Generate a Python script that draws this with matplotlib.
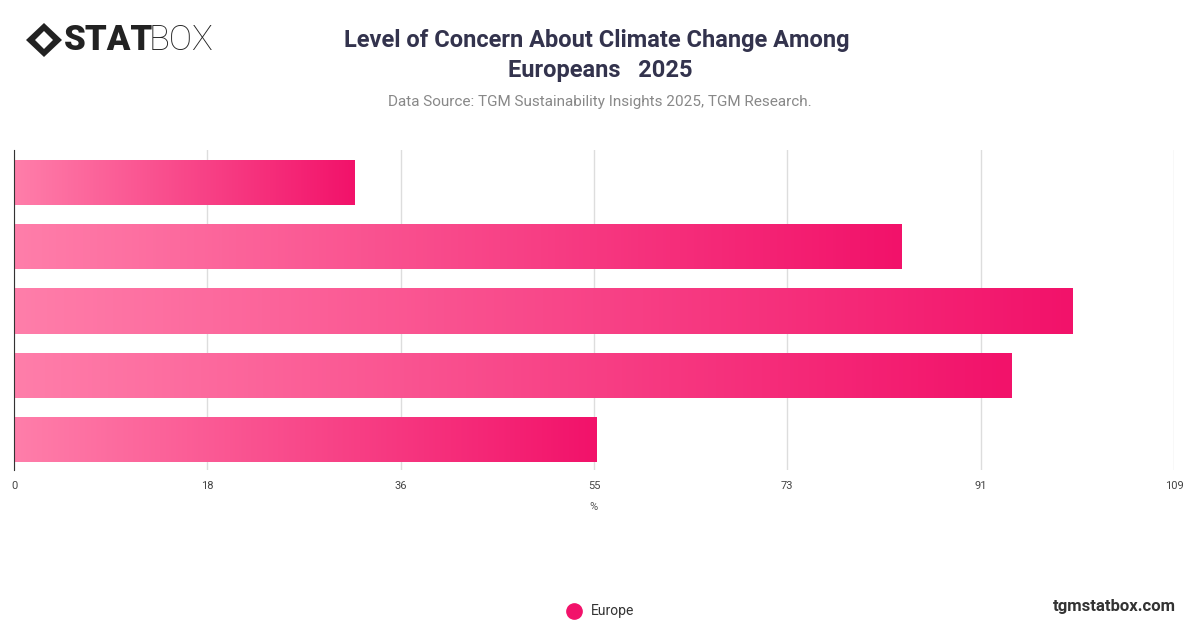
import numpy as np
import matplotlib.pyplot as plt
from matplotlib.colors import LinearSegmentedColormap
from matplotlib.patches import Rectangle, Polygon
from matplotlib.lines import Line2D

plt.rcParams["font.family"] = ["Roboto", "DejaVu Sans"]

# data
categories = ["Level 1", "Level 2", "Level 3", "Level 4", "Level 5"]
values = [32.0, 83.4, 99.5, 93.7, 54.7]
tick_labels = ["0", "18", "36", "55", "73", "91", "109"]
x_max = 109
series_name = "Europe"

W, H = 1200, 628
fig = plt.figure(figsize=(W / 100, H / 100), dpi=100, facecolor="white")
ax = fig.add_axes([14 / W, 1 - 470 / H, 1160 / W, 320 / H])
ax.set_xlim(0, x_max)
ax.set_ylim(len(values) - 0.53, -0.5)

cmap = LinearSegmentedColormap.from_list("pink", ["#FF7EAA", "#F2126A"])
grad = np.linspace(0, 1, 256).reshape(1, -1)
bar_h = 0.7
for i, v in enumerate(values):
    im = ax.imshow(grad, cmap=cmap, aspect="auto",
                   extent=[0, v, i + bar_h / 2, i - bar_h / 2], zorder=2)
    rect = Rectangle((0, i - bar_h / 2), v, bar_h, transform=ax.transData,
                     facecolor="none", edgecolor="none")
    ax.add_patch(rect)
    im.set_clip_path(rect)

ax.set_xticks(np.linspace(0, x_max, len(tick_labels)))
ax.set_xticklabels(tick_labels, fontsize=8, color="#444444")
ax.set_yticks([])
ax.grid(axis="x", color="#dddddd", linewidth=1, zorder=0)
for s in ["top", "right", "bottom"]:
    ax.spines[s].set_visible(False)
ax.spines["left"].set_color("#333333")
ax.tick_params(axis="x", length=0, pad=8)
ax.set_xlabel("%", fontsize=8, color="#555555", labelpad=8)

# titles
fig.text(597 / W, 1 - 40 / H, "Level of Concern About Climate Change Among",
         ha="center", va="center", fontsize=17, weight="bold", color="#33334d")
fig.text(600 / W, 1 - 71 / H, "Europeans   2025",
         ha="center", va="center", fontsize=17, weight="bold", color="#33334d")
fig.text(600 / W, 1 - 102 / H, "Data Source: TGM Sustainability Insights 2025, TGM Research.",
         ha="center", va="center", fontsize=11, color="#888888")

# logo
ly = 1 - 40 / H
fig.patches.append(Polygon([(26 / W, ly), (44 / W, ly + 17 / H), (62 / W, ly), (44 / W, ly - 17 / H)],
                           closed=True, transform=fig.transFigure, facecolor="#222222"))
fig.patches.append(Polygon([(35 / W, ly), (44 / W, ly + 9 / H), (53 / W, ly), (44 / W, ly - 9 / H)],
                           closed=True, transform=fig.transFigure, facecolor="white"))
fig.text(64 / W, ly, "STAT", ha="left", va="center", fontsize=25, weight="black", color="#222222")
fig.text(149 / W, ly, "BOX", ha="left", va="center", fontsize=25, weight="light", color="#222222")

# legend
fig.lines.append(Line2D([574 / W], [1 - 611 / H], transform=fig.transFigure, marker="o",
                        markersize=11, color="#F2126A", linestyle="none"))
fig.text(591 / W, 1 - 611 / H, series_name, ha="left", va="center", fontsize=10, color="#333333")
fig.text(1176 / W, 1 - 606 / H, "tgmstatbox.com", ha="right", va="center",
         fontsize=12, weight="bold", color="#333333")

fig.savefig("out.png", dpi=100, facecolor="white")
